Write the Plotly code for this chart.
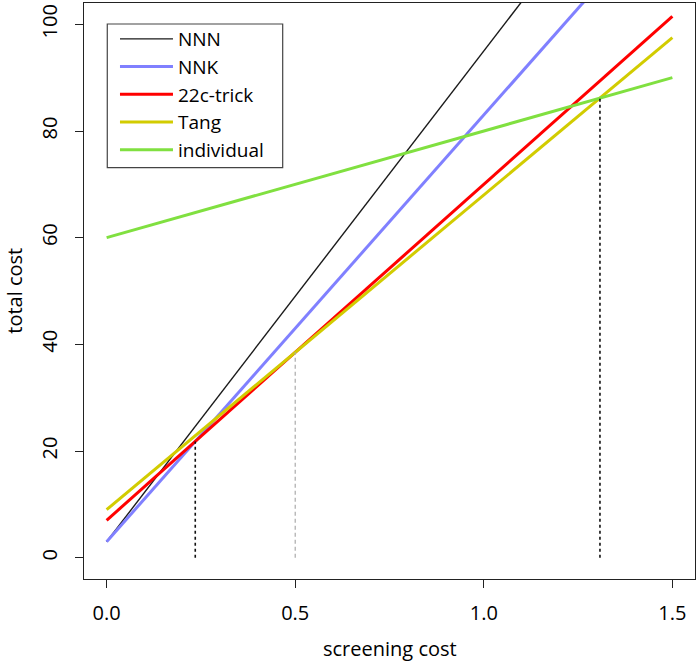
import plotly.graph_objects as go

# ---- data ----
screening_cost = [0.0, 1.5]
series_names = ["NNN", "NNK", "22c-trick", "Tang", "individual"]
nnn_cost = [3.0, 141.0]
nnk_cost = [3.0, 123.0]
trick_cost = [7.0, 101.5]
tang_cost = [9.0, 97.5]
individual_cost = [60.0, 90.0]

# break-even points (vertical guide lines)
cross_x = [0.235, 0.5, 1.308]
cross_y = [21.8, 38.5, 86.2]

x_ticks = [0.0, 0.5, 1.0, 1.5]
x_tick_labels = ["0.0", "0.5", "1.0", "1.5"]
y_ticks = [0, 20, 40, 60, 80, 100]
y_tick_labels = ["0", "20", "40", "60", "80", "100"]

# ---- styles ----
colors = ["#1a1a1a", "#8080FF", "#FF0000", "#D2CC00", "#80E040"]
widths = [1.4, 3, 3, 3, 3]
FONT = "Open Sans"

fig = go.Figure()
for name, ys, c, w in zip(series_names,
                          [nnn_cost, nnk_cost, trick_cost, tang_cost, individual_cost],
                          colors, widths):
    fig.add_trace(go.Scatter(x=screening_cost, y=ys, mode="lines", name=name,
                             line=dict(color=c, width=w)))

guide_styles = [dict(color="#111111", width=1.6, dash="dot"),
                dict(color="#AAAAAA", width=1.2, dash="4px,3px"),
                dict(color="#111111", width=1.6, dash="dot")]
for cx, cy, st in zip(cross_x, cross_y, guide_styles):
    fig.add_trace(go.Scatter(x=[cx, cx], y=[0, cy], mode="lines", line=st,
                             showlegend=False, hoverinfo="skip"))

axis_common = dict(showgrid=False, zeroline=False, showline=True, mirror=True,
                   automargin=False,
                   linecolor="#222222", linewidth=1.2, ticks="outside",
                   ticklen=8, tickwidth=1.2, tickcolor="#222222",
                   tickfont=dict(family=FONT, size=20, color="black"))

fig.update_layout(
    width=700, height=663,
    margin=dict(l=84, r=5, t=3, b=84, autoexpand=False),
    paper_bgcolor="white", plot_bgcolor="white",
    font=dict(family=FONT, color="black"),
    xaxis=dict(range=[-0.06, 1.56], tickvals=x_ticks, ticktext=x_tick_labels,
               ticklabelstandoff=8, **axis_common),
    yaxis=dict(range=[-4, 104], tickvals=y_ticks, ticktext=y_tick_labels,
               tickangle=-90, ticklabelstandoff=10, **axis_common),
    legend=dict(x=0.0507, y=0.9705, xanchor="left", yanchor="top",
                bgcolor="rgba(0,0,0,0)", borderwidth=0, itemwidth=53,
                font=dict(family=FONT, size=19, color="black"),
                tracegroupgap=0),
    showlegend=True,
    shapes=[dict(type="rect", xref="paper", yref="paper",
                 x0=0.0381, x1=0.3252, y0=0.7141, y1=0.9635,
                 line=dict(color="#444444", width=1.2), fillcolor="rgba(0,0,0,0)")],
    annotations=[
        dict(text="screening cost", xref="paper", yref="paper", x=0.5, y=-0.12,
             xanchor="center", yanchor="middle", showarrow=False,
             font=dict(family=FONT, size=20, color="black")),
        dict(text="total cost", xref="paper", yref="paper", x=-0.115, y=0.5,
             xanchor="center", yanchor="middle", showarrow=False, textangle=-90,
             font=dict(family=FONT, size=20, color="black")),
    ],
)

fig.write_html("out.html", config={"displayModeBar": False},
               post_script="document.body.style.margin='0';"
                           "document.body.style.overflow='hidden';")
